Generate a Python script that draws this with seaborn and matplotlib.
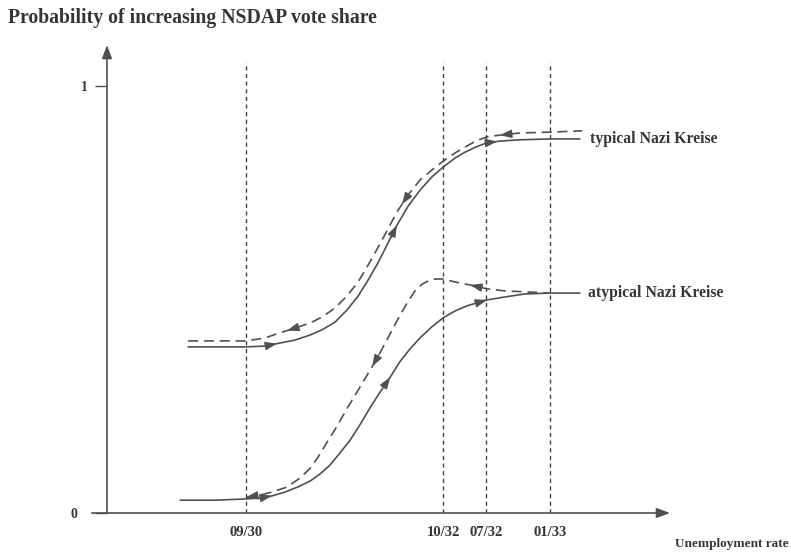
import numpy as np
import pandas as pd
import matplotlib
matplotlib.use("Agg")
import matplotlib.pyplot as plt
import seaborn as sns

# x in arbitrary unemployment units (0-100 along the axis), y = probability
date_labels = ["09/30", "10/32", "07/32", "01/33"]
date_x = [24.7, 59.7, 67.3, 78.7]

typ_solid_x = [14.4, 20.1, 24.7, 28.1, 30.7, 33.4, 36.1, 38.2, 40.5, 42.6, 44.6, 46.4, 48.1, 49.9,
               51.5, 53.5, 55.6, 57.7, 59.7, 61.8, 63.6, 65.5, 67.5, 69.8, 73.4, 78.7, 84.0]
typ_solid_y = [0.389, 0.389, 0.389, 0.391, 0.398, 0.405, 0.417, 0.429, 0.447, 0.475, 0.508, 0.546,
               0.585, 0.632, 0.674, 0.719, 0.756, 0.787, 0.810, 0.831, 0.845, 0.857, 0.867, 0.871,
               0.874, 0.876, 0.876]

typ_dash_x = [14.4, 20.1, 24.7, 28.1, 30.7, 33.4, 36.1, 38.2, 40.5, 42.6, 44.6, 46.4, 48.1, 49.9,
              51.5, 53.5, 55.6, 57.7, 59.7, 61.8, 63.6, 65.5, 67.5, 69.8, 73.4, 78.7, 84.4]
typ_dash_y = [0.403, 0.403, 0.403, 0.410, 0.422, 0.433, 0.445, 0.459, 0.480, 0.508, 0.541, 0.581,
              0.621, 0.665, 0.705, 0.745, 0.780, 0.803, 0.824, 0.843, 0.857, 0.871, 0.881, 0.885,
              0.890, 0.892, 0.895]

atyp_solid_x = [13.0, 19.2, 24.7, 27.2, 29.3, 31.6, 33.9, 36.1, 37.8, 39.6, 41.4, 43.2, 44.9, 46.7,
                48.5, 50.3, 52.0, 53.8, 55.6, 57.7, 59.7, 61.8, 63.9, 67.5, 70.7, 74.2, 78.7, 84.0]
atyp_solid_y = [0.030, 0.030, 0.033, 0.035, 0.040, 0.049, 0.061, 0.075, 0.091, 0.112, 0.141, 0.171,
                0.206, 0.246, 0.283, 0.318, 0.354, 0.384, 0.410, 0.436, 0.457, 0.473, 0.485, 0.499,
                0.506, 0.513, 0.515, 0.515]

atyp_dash_x = [24.7, 27.2, 29.3, 32.0, 34.3, 36.1, 37.5, 39.1, 40.9, 42.6, 44.4, 46.2, 48.0, 49.7,
               51.5, 53.3, 54.7, 56.0, 57.4, 58.6, 59.7, 61.8, 64.5, 67.5, 70.7, 74.2, 78.7]
atyp_dash_y = [0.037, 0.042, 0.049, 0.061, 0.082, 0.105, 0.131, 0.166, 0.204, 0.244, 0.283, 0.323,
               0.363, 0.405, 0.450, 0.492, 0.520, 0.536, 0.546, 0.548, 0.548, 0.541, 0.534, 0.525,
               0.520, 0.518, 0.515]

# arrowheads along each curve (x position, +1 = points right, -1 = points left)
arrows = {
    "typ_solid": ([30.2, 51.5, 69.3], 1),
    "typ_dash": ([32.0, 52.4, 69.8], -1),
    "atyp_solid": ([29.3, 50.3, 67.5], 1),
    "atyp_dash": ([24.7, 47.1, 64.5], -1),
}

line_col = "#505050"
text_col = "#353535"

sns.set_style("white")
plt.rcParams["font.family"] = ["Liberation Serif", "DejaVu Serif"]
plt.rcParams["font.weight"] = "bold"

fig = plt.figure(figsize=(7.91, 5.54), dpi=100)
ax = fig.add_axes([107 / 791, 41 / 554, 563 / 791, 468 / 554])
ax.set_xlim(0, 100)
ax.set_ylim(0, 1.096)
for s in ax.spines.values():
    s.set_visible(False)

curves = {
    "typ_solid": (typ_solid_x, typ_solid_y, "-"),
    "typ_dash": (typ_dash_x, typ_dash_y, "--"),
    "atyp_solid": (atyp_solid_x, atyp_solid_y, "-"),
    "atyp_dash": (atyp_dash_x, atyp_dash_y, "--"),
}
for name, (xs, ys, ls) in curves.items():
    df = pd.DataFrame({"x": xs, "y": ys})
    sns.lineplot(data=df, x="x", y="y", sort=False, color=line_col, lw=1.2, ax=ax)
    line = ax.lines[-1]
    line.set_solid_joinstyle("round")
    if ls == "--":
        line.set_dashes((6, 3.5))
    pts, sign = arrows[name]
    for x0 in pts:
        y0 = np.interp(x0, xs, ys)
        x1 = x0 - sign * 1.2
        y1 = np.interp(x1, xs, ys)
        ax.annotate("", xy=(x0, y0), xytext=(x1, y1),
                    arrowprops=dict(arrowstyle="-|>,head_length=0.7,head_width=0.25",
                                    color=line_col, lw=1.0, shrinkA=0, shrinkB=0))

# vertical date markers
for xv in date_x:
    ax.plot([xv, xv], [0, 1.056], color="#444444", lw=1.0, ls=(0, (3, 2.5)))

# axes with arrows
ax.annotate("", xy=(100, 0), xytext=(-2.7, 0), annotation_clip=False,
            arrowprops=dict(arrowstyle="-|>,head_length=0.8,head_width=0.3",
                            color=line_col, lw=1.2, shrinkA=0, shrinkB=0))
ax.annotate("", xy=(0, 1.096), xytext=(0, 0), annotation_clip=False,
            arrowprops=dict(arrowstyle="-|>,head_length=0.8,head_width=0.3",
                            color=line_col, lw=1.2, shrinkA=0, shrinkB=0))

ax.set_xticks(date_x, date_labels)
ax.tick_params(axis="x", bottom=False, length=0, pad=9, labelsize=10.5, labelcolor=text_col)
ax.set_yticks([0, 1], ["0", "1"])
ax.tick_params(axis="y", left=True, length=8.5, width=1.0, color=line_col, pad=5,
               labelsize=10, labelcolor=text_col)
ax.yaxis.get_major_ticks()[0].set_pad(13)
ax.set_xlabel("")
ax.set_ylabel("")

ax.text(85.8, 0.876, "typical Nazi Kreise", va="center", ha="left",
        fontsize=11.3, color=text_col, fontweight="bold")
ax.text(85.4, 0.515, "atypical Nazi Kreise", va="center", ha="left",
        fontsize=11.3, color=text_col, fontweight="bold")

fig.text(8 / 791, 1 - 18 / 554, "Probability of increasing NSDAP vote share",
         ha="left", va="center", fontsize=14.2, color=text_col, fontweight="bold")
fig.text(789 / 791, 1 - 544 / 554, "Unemployment rate",
         ha="right", va="center", fontsize=9.5, color=text_col, fontweight="bold")

fig.savefig("out.png", dpi=100, facecolor="white")
